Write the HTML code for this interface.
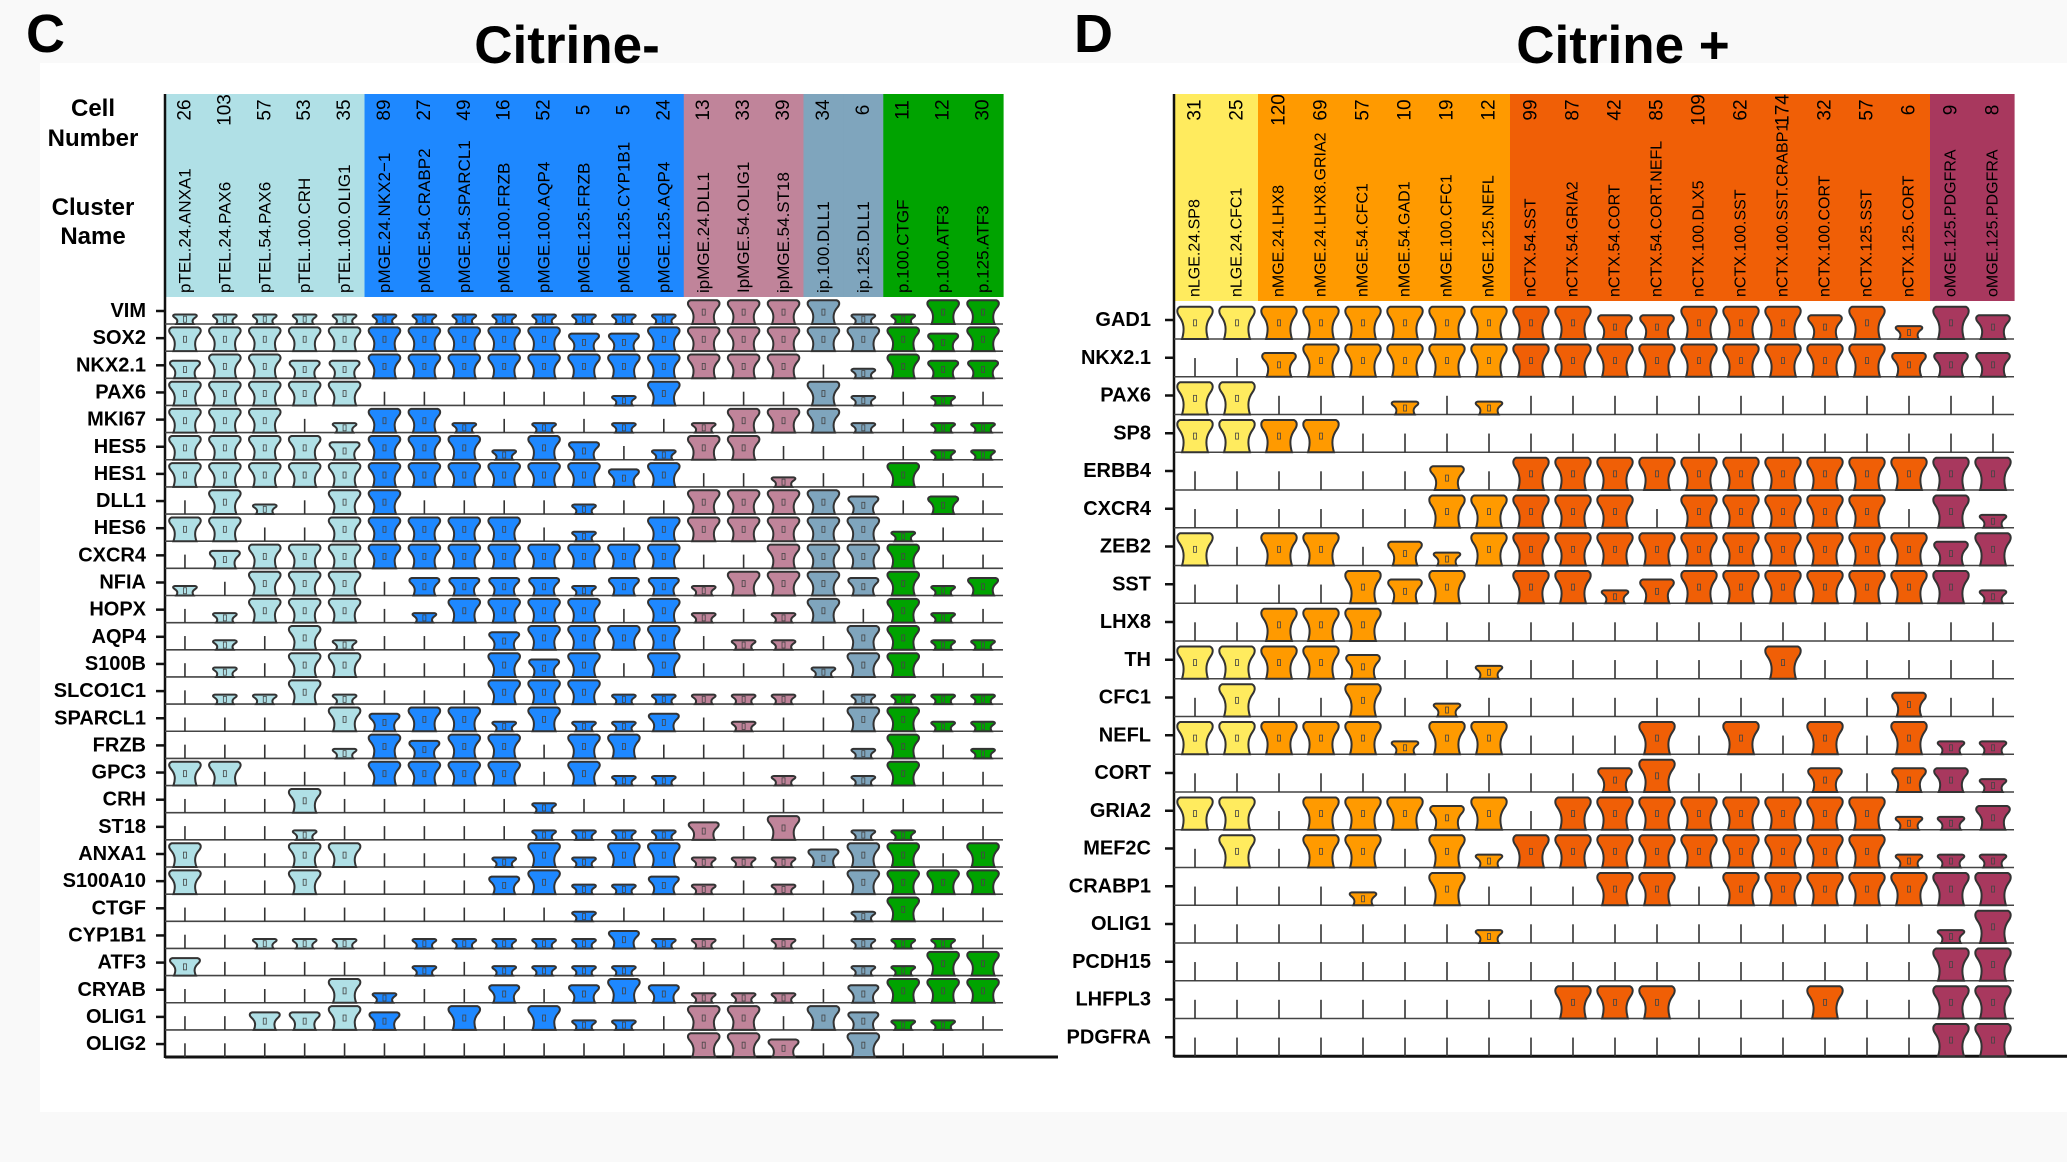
<!DOCTYPE html>
<html><head><meta charset="utf-8"><style>
html,body{margin:0;padding:0;background:#f9f9f9;}
svg{display:block;font-family:"Liberation Sans",Arial,sans-serif;}
</style></head><body>
<svg id="fig" width="2067" height="1162" viewBox="0 0 2067 1162" xmlns="http://www.w3.org/2000/svg">
<rect x="40" y="63" width="2027" height="1049" fill="#ffffff"/>
<text x="26" y="52" font-size="54" font-weight="bold">C</text>
<text x="567" y="63" font-size="53" font-weight="bold" text-anchor="middle">Citrine-</text>
<text x="1074" y="52" font-size="54" font-weight="bold">D</text>
<text x="1623" y="63" font-size="53" font-weight="bold" text-anchor="middle">Citrine +</text>
<g font-size="24" font-weight="bold" text-anchor="middle">
<text x="93" y="116">Cell</text><text x="93" y="146">Number</text>
<text x="93" y="215">Cluster</text><text x="93" y="244">Name</text>
</g>
<g id="left"></g>
<g id="right"></g>
</svg>
<script>
// ----- Left panel data (Citrine-) -----
const leftClusters = ["pTEL.24.ANXA1","pTEL.24.PAX6","pTEL.54.PAX6","pTEL.100.CRH","pTEL.100.OLIG1","pMGE.24.NKX2\u22121","pMGE.54.CRABP2","pMGE.54.SPARCL1","pMGE.100.FRZB","pMGE.100.AQP4","pMGE.125.FRZB","pMGE.125.CYP1B1","pMGE.125.AQP4","ipMGE.24.DLL1","IpMGE.54.OLIG1","ipMGE.54.ST18","ip.100.DLL1","ip.125.DLL1","p.100.CTGF","p.100.ATF3","p.125.ATF3"];
const leftCounts = [26,103,57,53,35,89,27,49,16,52,5,5,24,13,33,39,34,6,11,12,30];
const leftGroups = [0,0,0,0,0,1,1,1,1,1,1,1,1,2,2,2,3,3,4,4,4];
const leftGroupColors = ["#b0e0e6","#1e88ff","#c0849a","#7fa5bd","#00a300"];
const leftGenes = ["VIM","SOX2","NKX2.1","PAX6","MKI67","HES5","HES1","DLL1","HES6","CXCR4","NFIA","HOPX","AQP4","S100B","SLCO1C1","SPARCL1","FRZB","GPC3","CRH","ST18","ANXA1","S100A10","CTGF","CYP1B1","ATF3","CRYAB","OLIG1","OLIG2"];
const leftValues = [
[1,1,1,1,1,1,1,1,1,1,1,1,1,3,3,3,3,1,1,3,3],
[3,3,3,3,3,3,3,3,3,3,2,2,3,3,3,3,3,3,3,2,3],
[2,3,3,2,2,3,3,3,3,3,3,3,3,3,3,3,0,1,3,2,2],
[3,3,3,3,3,0,0,0,0,0,0,1,3,0,0,0,3,1,0,1,0],
[3,3,3,0,1,3,3,1,0,1,0,1,0,1,3,3,3,1,0,1,1],
[3,3,3,3,2,3,3,3,1,3,2,0,1,3,3,0,0,0,0,1,1],
[3,3,3,3,3,3,3,3,3,3,3,2,3,0,0,1,0,0,3,0,0],
[0,3,1,0,3,3,0,0,0,0,1,0,0,3,3,3,3,2,0,2,0],
[3,3,0,0,3,3,3,3,3,0,1,0,3,3,3,3,3,3,1,0,0],
[0,2,3,3,3,3,3,3,3,3,3,3,3,0,0,3,3,3,3,0,0],
[1,0,3,3,3,0,2,2,2,2,1,2,2,1,3,3,3,2,3,1,2],
[0,1,3,3,3,0,1,3,3,3,3,0,3,1,0,1,3,0,3,1,0],
[0,1,0,3,1,0,0,0,2,3,3,3,3,0,1,1,0,3,3,1,1],
[0,1,0,3,3,0,0,0,3,2,3,0,3,0,0,0,1,3,3,0,0],
[0,1,1,3,1,0,0,0,3,3,3,1,1,1,1,1,0,1,1,1,1],
[0,0,0,0,3,2,3,3,1,3,1,1,2,0,1,0,0,3,3,1,1],
[0,0,0,0,1,3,2,3,3,0,3,3,0,0,0,0,0,1,3,0,1],
[3,3,0,0,0,3,3,3,3,0,3,1,1,0,0,1,0,1,3,0,0],
[0,0,0,3,0,0,0,0,0,1,0,0,0,0,0,0,0,0,0,0,0],
[0,0,0,1,0,0,0,0,0,1,1,1,1,2,0,3,0,1,1,0,0],
[3,0,0,3,3,0,0,0,1,3,1,3,3,1,1,1,2,3,3,0,3],
[3,0,0,3,0,0,0,0,2,3,1,1,2,1,0,1,0,3,3,3,3],
[0,0,0,0,0,0,0,0,0,0,1,0,0,0,0,0,0,1,3,0,0],
[0,0,1,1,1,0,1,1,1,1,1,2,1,1,0,1,0,1,1,1,0],
[2,0,0,0,0,0,1,0,1,1,1,1,0,0,0,0,0,1,1,3,3],
[0,0,0,0,3,1,0,0,2,0,2,3,2,1,1,1,0,2,3,3,3],
[0,0,2,2,3,2,0,3,0,3,1,1,0,3,3,0,3,2,1,1,0],
[0,0,0,0,0,0,0,0,0,0,0,0,0,3,3,2,0,3,0,0,0]];

// ----- Right panel data (Citrine +) -----
const rightClusters = ["nLGE.24.SP8","nLGE.24.CFC1","nMGE.24.LHX8","nMGE.24.LHX8.GRIA2","nMGE.54.CFC1","nMGE.54.GAD1","nMGE.100.CFC1","nMGE.125.NEFL","nCTX.54.SST","nCTX.54.GRIA2","nCTX.54.CORT","nCTX.54.CORT.NEFL","nCTX.100.DLX5","nCTX.100.SST","nCTX.100.SST.CRABP1","nCTX.100.CORT","nCTX.125.SST","nCTX.125.CORT","oMGE.125.PDGFRA","oMGE.125.PDGFRA"];
const rightCounts = [31,25,120,69,57,10,19,12,99,87,42,85,109,62,174,32,57,6,9,8];
const rightGroups = [0,0,1,1,1,1,1,1,2,2,2,2,2,2,2,2,2,2,3,3];
const rightGroupColors = ["#ffeb5e","#ff9a00","#f05f06","#a8385e"];
const rightGenes = ["GAD1","NKX2.1","PAX6","SP8","ERBB4","CXCR4","ZEB2","SST","LHX8","TH","CFC1","NEFL","CORT","GRIA2","MEF2C","CRABP1","OLIG1","PCDH15","LHFPL3","PDGFRA"];
const rightValues = [
[3,3,3,3,3,3,3,3,3,3,2,2,3,3,3,2,3,1,3,2],
[0,0,2,3,3,3,3,3,3,3,3,3,3,3,3,3,3,2,2,2],
[3,3,0,0,0,1,0,1,0,0,0,0,0,0,0,0,0,0,0,0],
[3,3,3,3,0,0,0,0,0,0,0,0,0,0,0,0,0,0,0,0],
[0,0,0,0,0,0,2,0,3,3,3,3,3,3,3,3,3,3,3,3],
[0,0,0,0,0,0,3,3,3,3,3,0,3,3,3,3,3,0,3,1],
[3,0,3,3,0,2,1,3,3,3,3,3,3,3,3,3,3,3,2,3],
[0,0,0,0,3,2,3,0,3,3,1,2,3,3,3,3,3,3,3,1],
[0,0,3,3,3,0,0,0,0,0,0,0,0,0,0,0,0,0,0,0],
[3,3,3,3,2,0,0,1,0,0,0,0,0,0,3,0,0,0,0,0],
[0,3,0,0,3,0,1,0,0,0,0,0,0,0,0,0,0,2,0,0],
[3,3,3,3,3,1,3,3,0,0,0,3,0,3,0,3,0,3,1,1],
[0,0,0,0,0,0,0,0,0,0,2,3,0,0,0,2,0,2,2,1],
[3,3,0,3,3,3,2,3,0,3,3,3,3,3,3,3,3,1,1,2],
[0,3,0,3,3,0,3,1,3,3,3,3,3,3,3,3,3,1,1,1],
[0,0,0,0,1,0,3,0,0,0,3,3,0,3,3,3,3,3,3,3],
[0,0,0,0,0,0,0,1,0,0,0,0,0,0,0,0,0,0,1,3],
[0,0,0,0,0,0,0,0,0,0,0,0,0,0,0,0,0,0,3,3],
[0,0,0,0,0,0,0,0,0,3,3,3,0,0,0,3,0,0,3,3],
[0,0,0,0,0,0,0,0,0,0,0,0,0,0,0,0,0,0,3,3]];

const NS = "http://www.w3.org/2000/svg";
function mk(tag, attrs, parent){
  const e = document.createElementNS(NS, tag);
  for (const k in attrs) e.setAttribute(k, attrs[k]);
  parent.appendChild(e);
  return e;
}
function violinPath(cx, y0, w, h){
  const hw = w/2;
  return `M${cx-hw*0.7},${y0} C${cx-hw*0.55},${y0-h*0.3} ${cx-hw*0.6},${y0-h*0.5} ${cx-hw*0.85},${y0-h*0.7}` +
    ` C${cx-hw},${y0-h*0.82} ${cx-hw},${y0-h*0.95} ${cx-hw*0.8},${y0-h}` +
    ` L${cx+hw*0.8},${y0-h} C${cx+hw},${y0-h*0.95} ${cx+hw},${y0-h*0.82} ${cx+hw*0.85},${y0-h*0.7}` +
    ` C${cx+hw*0.6},${y0-h*0.5} ${cx+hw*0.55},${y0-h*0.3} ${cx+hw*0.7},${y0} Z`;
}
function drawPanel(g, cfg){
  const {x0,x1,hTop,hBot,tick0,rowH,baseOff,clusters,counts,groups,colors,genes,values,labelRight,vw,vh,axisEnd,nameSize} = cfg;
  const n = clusters.length;
  const cw = (x1-x0)/n;
  const xc = i => x0 + cw*(i+0.5);
  const yBase = r => tick0 + rowH*r + baseOff;
  for (let i=0;i<n;i++){
    const r = mk('rect',{x:x0+cw*i,y:hTop,width:cw+0.6,height:hBot-hTop,fill:colors[groups[i]]},g);
    
    
    const t1 = mk('text',{x:0,y:0,'font-size':19,'text-anchor':'middle','dominant-baseline':'central',transform:`translate(${xc(i)},${hTop+16}) rotate(-90)`},g);
    t1.textContent = counts[i];
    
    
    const t2 = mk('text',{x:0,y:0,'font-size':nameSize,'dominant-baseline':'central',transform:`translate(${xc(i)},${hBot-4}) rotate(-90)`},g);
    t2.textContent = clusters[i];
    
    
  }
  const ax = mk('line',{x1:x0,y1:hTop,x2:x0,y2:yBase(genes.length-1)+1,stroke:'#111','stroke-width':2.5},g);
  
  
  for (let r=0;r<genes.length;r++){
    const yb = yBase(r);
    const ty = tick0 + rowH*r;
    const last = r===genes.length-1;
    const bl = mk('line',{x1:x0,y1:yb,x2:last?axisEnd:x1,y2:yb,stroke:last?'#111':'#444','stroke-width':last?3:1.6},g);
    
    
    const tk = mk('line',{x1:x0-9,y1:ty,x2:x0,y2:ty,stroke:'#111','stroke-width':2.5},g);
    
    
    const lab = mk('text',{x:labelRight,y:ty,'font-size':20,'font-weight':'bold','text-anchor':'end','dominant-baseline':'central'},g);
    lab.textContent = genes[r];
    
    
    for (let i=0;i<n;i++){
      const v = values[r][i];
      const cx = xc(i);
      if (v===0){
        const l = mk('line',{x1:cx,y1:yb,x2:cx,y2:yb-vh*0.55,stroke:'#333','stroke-width':1.6},g);
        
        
      } else {
        const h = vh*[0,0.38,0.7,0.95][v];
        const w = vw*[0,0.75,0.95,1][v];
        const p = mk('path',{d:violinPath(cx,yb,w,h),fill:colors[groups[i]],stroke:'#333','stroke-width':2},g);
        
        
        const m = mk('rect',{x:cx-1.5,y:yb-h*0.5-3,width:3,height:6,fill:'none',stroke:'#444','stroke-width':0.8},g);
        
        
      }
    }
  }
}
drawPanel(document.getElementById('left'),{x0:165,x1:1003,hTop:94,hBot:297,tick0:311,rowH:27.15,baseOff:13,
  clusters:leftClusters,counts:leftCounts,groups:leftGroups,colors:leftGroupColors,genes:leftGenes,values:leftValues,
  labelRight:146,vw:33,vh:25,axisEnd:1058,nameSize:17});
drawPanel(document.getElementById('right'),{x0:1174,x1:2014,hTop:94,hBot:301,tick0:320,rowH:37.75,baseOff:19,
  clusters:rightClusters,counts:rightCounts,groups:rightGroups,colors:rightGroupColors,genes:rightGenes,values:rightValues,
  labelRight:1151,vw:37,vh:34,axisEnd:2067,nameSize:16});
</script>
</body></html>
